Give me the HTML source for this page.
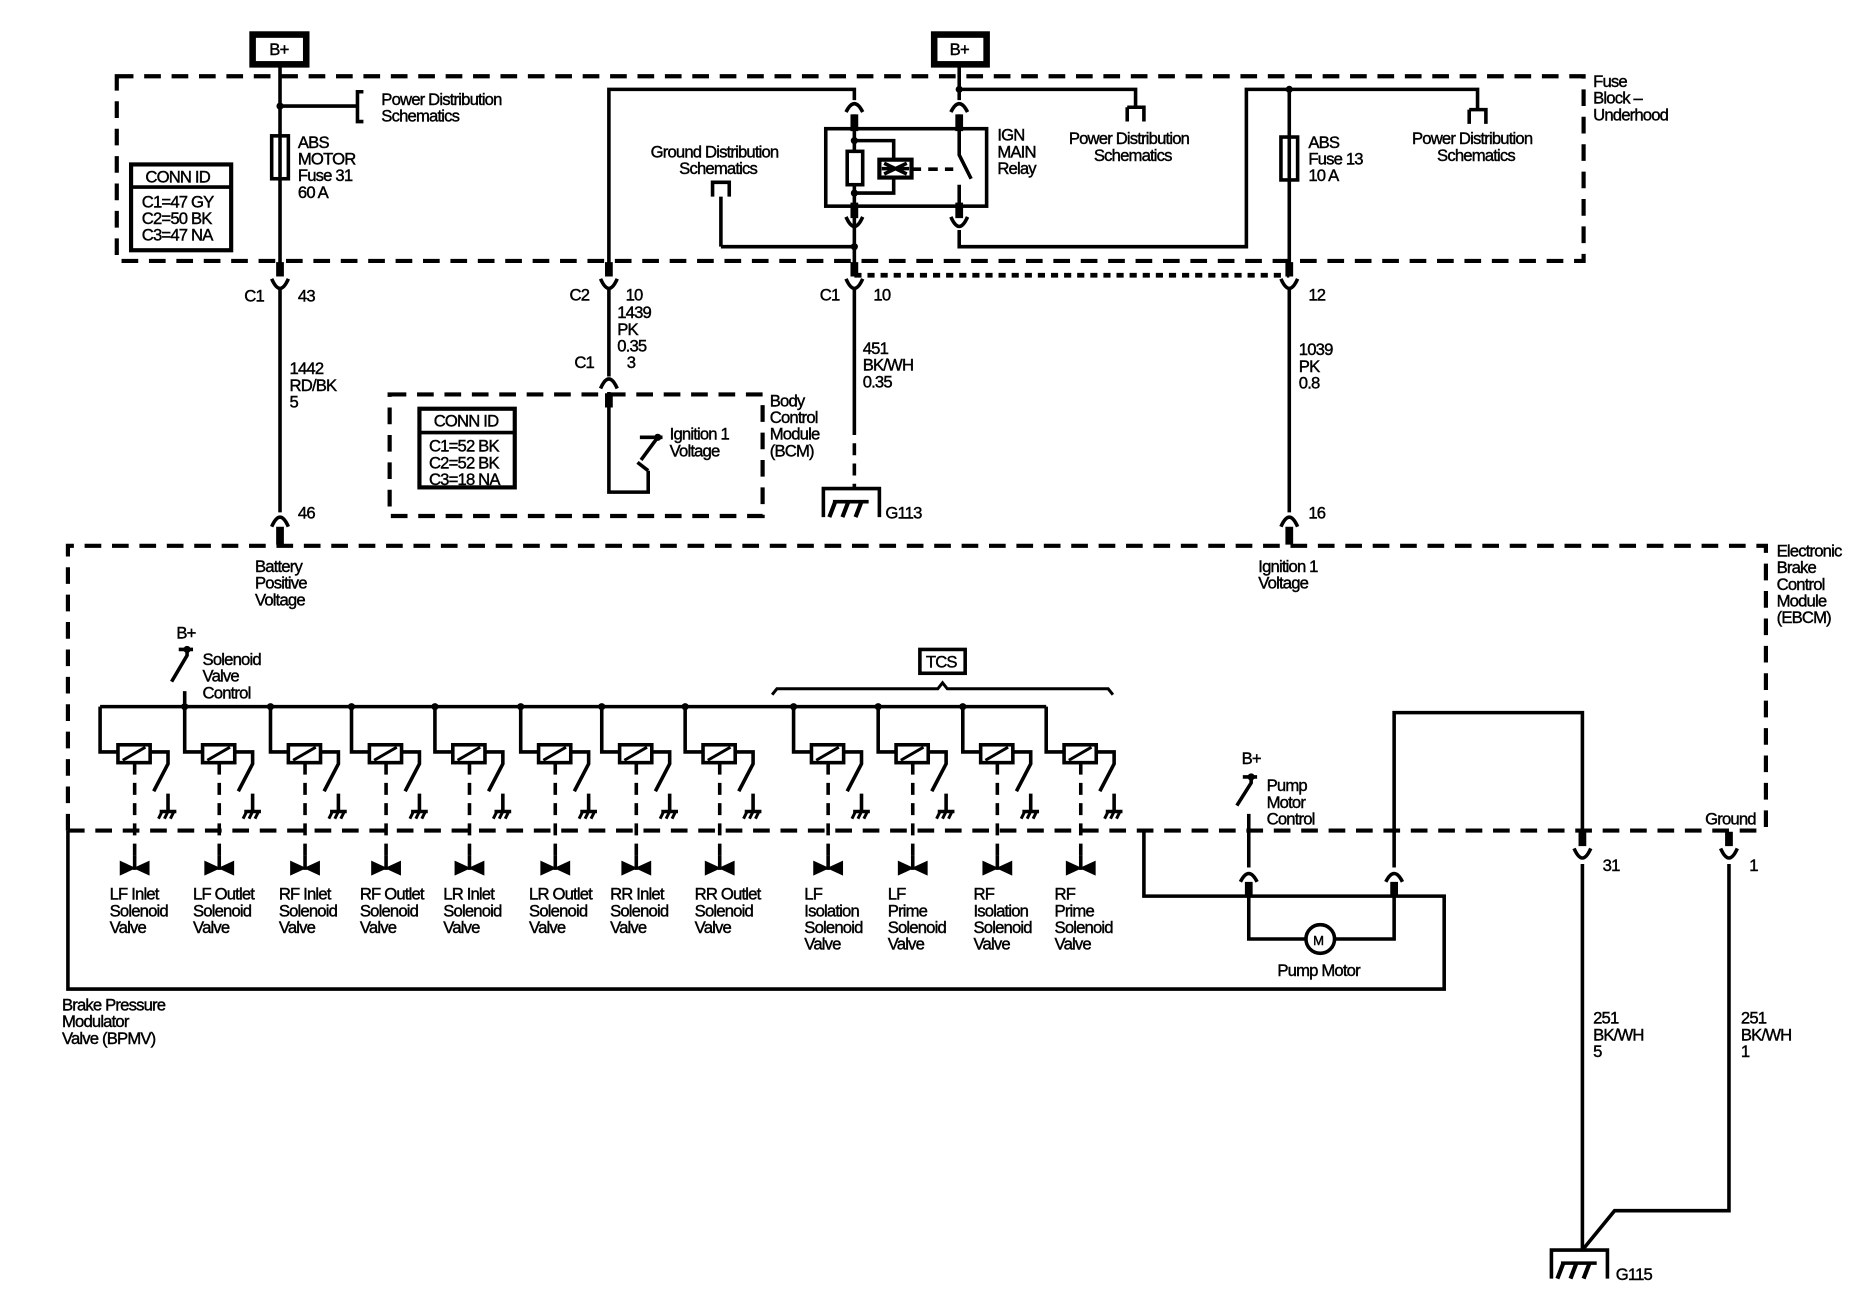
<!DOCTYPE html>
<html><head><meta charset="utf-8"><style>
html,body{margin:0;padding:0;background:#fff;}
svg{display:block;}
text{font-family:"Liberation Sans",sans-serif;font-size:14px;letter-spacing:-0.7px;fill:#000;stroke:#000;stroke-width:0.35px;}
</style></head><body>
<svg width="1866" height="1312" viewBox="0 0 1566 1101" preserveAspectRatio="none" xmlns="http://www.w3.org/2000/svg">
<defs>
<g id="sol" fill="none" stroke="#000" stroke-width="3">
  <path d="M0,593 V631 H15"/>
  <rect x="15" y="625" width="27" height="15"/>
  <line x1="19" y1="638" x2="38" y2="627" stroke-width="2.5"/>
  <path d="M42,631 H57 V641 L45,664"/>
  <path d="M57,666 V681 M50,681 H64"/>
  <path d="M52,681 L49,687 M57,681 L54,687 M62,681 L59,687" stroke-width="2.5"/>
  <line x1="29" y1="640" x2="29" y2="722" stroke-dasharray="10,7"/>
  <path d="M17,723 L29,728.5 L17,734 Z M41,723 L29,728.5 L41,734 Z" fill="#000" stroke-width="1"/>
  <line x1="29" y1="718" x2="29" y2="730"/>
</g>
<g id="gnd" fill="none" stroke="#000" stroke-width="3">
  <path d="M-24,24 V0 H23 V24"/>
  <path d="M-16,11 H14"/>
  <path d="M-14,11 L-19,24 M-3,11 L-8,24 M8,11 L3,24" stroke-width="3.5"/>
</g>
</defs>
<g fill="none" stroke="#000" stroke-width="3.5" stroke-dasharray="14,9">
  <rect x="98" y="64" width="1231" height="155"/>
  <rect x="327" y="331" width="313" height="102"/>
  <path d="M57,697 V458 H1482 V697"/>
  <line x1="57" y1="697" x2="1482" y2="697"/>
</g>
<line x1="717" y1="231" x2="1082" y2="231" stroke="#000" stroke-width="4" stroke-dasharray="6,5"/>
<rect x="212" y="29" width="45" height="25" fill="#fff" stroke="#000" stroke-width="5.5"/>
<text x="226" y="46">B+</text>
<rect x="784" y="29" width="44" height="25" fill="#fff" stroke="#000" stroke-width="5.5"/>
<text x="797" y="46">B+</text>
<g fill="none" stroke="#000" stroke-width="3">
<path d="M235,54 V230 M235,243 V430"/>
<path d="M235,89 H300 M305,77 H300 V102 H305"/>
<rect x="228" y="114" width="14" height="36" fill="#fff"/>
<line x1="235" y1="114" x2="235" y2="150"/>
<path d="M511,230 V75 H717 V84"/>
<path d="M511,243 V316 M511,329 V413 H544 V395"/>
<path d="M544,395 L535,388 M538,386 L552,367 M537,367 H556"/>
<rect x="693" y="108" width="135" height="65"/>
<path d="M717,96 V230 M717,243 V355"/>
<path d="M717,355 V410" stroke-dasharray="10,7"/>
<path d="M717,118 H750 V162 H717"/>
<rect x="711" y="127" width="13" height="28" fill="#fff"/>
<rect x="738" y="134" width="27" height="15" fill="#fff" stroke-width="3.5"/>
<path d="M742,137 L761,146 M742,146 L761,137 M740,141.5 H763"/>
<path d="M765,142 H800" stroke-dasharray="8,6"/>
<path d="M805,54 V84 M805,96 V130 L815,150 M805,155 V180"/>
<path d="M805,75 H953 V90 M946,90 H960 V102 M946,90 V102"/>
<path d="M805,193 V207 H1046 V75 H1240 V92 M1233,92 H1247 V104 M1233,92 V104"/>
<path d="M605,207 H717 M605,207 V165 M598,165 V153 H612 V165"/>
<path d="M1082,75 V230 M1082,243 V430"/>
<rect x="1075" y="115" width="14" height="36" fill="#fff"/>
<line x1="1082" y1="115" x2="1082" y2="151"/>
</g>
<g fill="#000"><circle cx="235" cy="89" r="3"/><circle cx="805" cy="75" r="3"/><circle cx="1082" cy="75" r="3"/><circle cx="717" cy="118" r="3"/><circle cx="717" cy="162" r="3"/><circle cx="717" cy="207" r="3"/><circle cx="552" cy="367" r="3"/></g>
<g fill="none" stroke="#000" stroke-width="3">
<path d="M228,234 Q235,250 242,234"/><path d="M504,234 Q511,250 518,234"/><path d="M710,234 Q717,250 724,234"/><path d="M1075,234 Q1082,250 1089,234"/>
<path d="M504,326 Q511,310 518,326"/>
<path d="M228,442 Q235,426 242,442"/><path d="M1075,442 Q1082,426 1089,442"/>
<path d="M710,94 Q717,80 724,94"/><path d="M798,94 Q805,80 812,94"/>
<path d="M710,182 Q717,198 724,182"/><path d="M798,182 Q805,198 812,182"/>
<path d="M1041,740 Q1048,726 1055,740"/><path d="M1163,740 Q1170,726 1177,740"/>
<path d="M1321,712 Q1328,728 1335,712"/><path d="M1444,712 Q1451,728 1458,712"/>
</g>
<g stroke="#000" stroke-width="6.5">
<path d="M235,220 V232 M511,220 V232 M717,220 V232 M1082,220 V232 M511,330 V342 M235,442 V457 M1082,442 V457"/>
<path d="M717,96 V110 M805,96 V110 M717,170 V183 M805,170 V183"/>
<path d="M1048,740 V752 M1170,740 V752 M1328,698 V710 M1451,698 V710"/>
</g>
<g fill="#fff" stroke="#000" stroke-width="3.5"><rect x="110" y="138" width="84" height="72"/><rect x="352" y="343" width="80" height="66"/></g>
<g stroke="#000" stroke-width="3"><line x1="110" y1="157" x2="194" y2="157"/><line x1="352" y1="363" x2="432" y2="363"/></g>
<use href="#gnd" x="715" y="410"/>
<g fill="none" stroke="#000" stroke-width="3">
<path d="M84,593 H878"/>
<path d="M150,545 H162 M157,545 V550 L144,572 M155,580 V593"/>
<path d="M648,583 L652,578 H787 L791,573 L795,578 H930 L934,583" stroke-width="2.5"/>
</g>
<rect x="772" y="545" width="38" height="20" fill="#fff" stroke="#000" stroke-width="3"/>
<text x="777" y="560">TCS</text>
<g fill="#000"><circle cx="155" cy="593" r="3"/><circle cx="227" cy="593" r="3"/><circle cx="295" cy="593" r="3"/><circle cx="365" cy="593" r="3"/><circle cx="437" cy="593" r="3"/><circle cx="505" cy="593" r="3"/><circle cx="575" cy="593" r="3"/><circle cx="666" cy="593" r="3"/><circle cx="737" cy="593" r="3"/><circle cx="808" cy="593" r="3"/><circle cx="157" cy="545" r="3"/></g>
<use href="#sol" x="84"/><use href="#sol" x="155"/><use href="#sol" x="227"/><use href="#sol" x="295"/><use href="#sol" x="365"/><use href="#sol" x="437"/><use href="#sol" x="505"/><use href="#sol" x="575"/><use href="#sol" x="666"/><use href="#sol" x="737"/><use href="#sol" x="808"/><use href="#sol" x="878"/>
<g fill="none" stroke="#000" stroke-width="3">
<path d="M57,697 V830 H1212 V752 H960 V697"/>
<path d="M1043,652 H1055 M1050,652 V657 L1038,676 M1048,683 V728"/>
<path d="M1048,752 V788 H1096 M1120,788 H1170 V752 M1170,728 V598 H1328 V698 M1328,725 V1049"/>
<circle cx="1108" cy="788" r="12"/>
<path d="M1451,725 V1016 H1355 L1328,1049"/>
</g>
<circle cx="1050" cy="652" r="3"/>
<use href="#gnd" x="1326" y="1049"/>
<text x="320" y="88">Power Distribution</text><text x="320" y="102">Schematics</text>
<text x="250" y="124">ABS</text><text x="250" y="138">MOTOR</text><text x="250" y="152">Fuse 31</text><text x="250" y="166">60 A</text>
<text x="122" y="153">CONN ID</text><text x="119" y="174">C1=47 GY</text><text x="119" y="188">C2=50 BK</text><text x="119" y="202">C3=47 NA</text>
<text x="546" y="132">Ground Distribution</text><text x="570" y="146">Schematics</text>
<text x="837" y="118">IGN</text><text x="837" y="132">MAIN</text><text x="837" y="146">Relay</text>
<text x="897" y="121">Power Distribution</text><text x="918" y="135">Schematics</text>
<text x="1098" y="124">ABS</text><text x="1098" y="138">Fuse 13</text><text x="1098" y="152">10 A</text>
<text x="1185" y="121">Power Distribution</text><text x="1206" y="135">Schematics</text>
<text x="1337" y="73">Fuse</text><text x="1337" y="87">Block –</text><text x="1337" y="101">Underhood</text>
<text x="205" y="253">C1</text><text x="250" y="253">43</text>
<text x="478" y="252">C2</text><text x="525" y="252">10</text>
<text x="518" y="267">1439</text><text x="518" y="281">PK</text><text x="518" y="295">0.35</text><text x="526" y="309">3</text><text x="482" y="309">C1</text>
<text x="688" y="252">C1</text><text x="733" y="252">10</text>
<text x="1098" y="252">12</text>
<text x="243" y="314">1442</text><text x="243" y="328">RD/BK</text><text x="243" y="342">5</text>
<text x="724" y="297">451</text><text x="724" y="311">BK/WH</text><text x="724" y="325">0.35</text>
<text x="1090" y="298">1039</text><text x="1090" y="312">PK</text><text x="1090" y="326">0.8</text>
<text x="364" y="358">CONN ID</text><text x="360" y="379">C1=52 BK</text><text x="360" y="393">C2=52 BK</text><text x="360" y="407">C3=18 NA</text>
<text x="562" y="369">Ignition 1</text><text x="562" y="383">Voltage</text>
<text x="646" y="341">Body</text><text x="646" y="355">Control</text><text x="646" y="369">Module</text><text x="646" y="383">(BCM)</text>
<text x="743" y="435">G113</text>
<text x="250" y="435">46</text><text x="1098" y="435">16</text>
<text x="214" y="480">Battery</text><text x="214" y="494">Positive</text><text x="214" y="508">Voltage</text>
<text x="1056" y="480">Ignition 1</text><text x="1056" y="494">Voltage</text>
<text x="1491" y="467">Electronic</text><text x="1491" y="481">Brake</text><text x="1491" y="495">Control</text><text x="1491" y="509">Module</text><text x="1491" y="523">(EBCM)</text>
<text x="148" y="536">B+</text>
<text x="170" y="558">Solenoid</text><text x="170" y="572">Valve</text><text x="170" y="586">Control</text>
<text x="1042" y="641">B+</text>
<text x="1063" y="664">Pump</text><text x="1063" y="678">Motor</text><text x="1063" y="692">Control</text>
<text x="1431" y="692">Ground</text>
<text x="1345" y="731">31</text><text x="1468" y="731">1</text>
<text x="1102" y="793" style="font-size:11px">M</text>
<text x="1072" y="819">Pump Motor</text>
<g>
<text x="92" y="755">LF Inlet</text><text x="92" y="769">Solenoid</text><text x="92" y="783">Valve</text>
<text x="162" y="755">LF Outlet</text><text x="162" y="769">Solenoid</text><text x="162" y="783">Valve</text>
<text x="234" y="755">RF Inlet</text><text x="234" y="769">Solenoid</text><text x="234" y="783">Valve</text>
<text x="302" y="755">RF Outlet</text><text x="302" y="769">Solenoid</text><text x="302" y="783">Valve</text>
<text x="372" y="755">LR Inlet</text><text x="372" y="769">Solenoid</text><text x="372" y="783">Valve</text>
<text x="444" y="755">LR Outlet</text><text x="444" y="769">Solenoid</text><text x="444" y="783">Valve</text>
<text x="512" y="755">RR Inlet</text><text x="512" y="769">Solenoid</text><text x="512" y="783">Valve</text>
<text x="583" y="755">RR Outlet</text><text x="583" y="769">Solenoid</text><text x="583" y="783">Valve</text>
<text x="675" y="755">LF</text><text x="675" y="769">Isolation</text><text x="675" y="783">Solenoid</text><text x="675" y="797">Valve</text>
<text x="745" y="755">LF</text><text x="745" y="769">Prime</text><text x="745" y="783">Solenoid</text><text x="745" y="797">Valve</text>
<text x="817" y="755">RF</text><text x="817" y="769">Isolation</text><text x="817" y="783">Solenoid</text><text x="817" y="797">Valve</text>
<text x="885" y="755">RF</text><text x="885" y="769">Prime</text><text x="885" y="783">Solenoid</text><text x="885" y="797">Valve</text>
</g>
<text x="52" y="848">Brake Pressure</text><text x="52" y="862">Modulator</text><text x="52" y="876">Valve (BPMV)</text>
<text x="1337" y="859">251</text><text x="1337" y="873">BK/WH</text><text x="1337" y="887">5</text>
<text x="1461" y="859">251</text><text x="1461" y="873">BK/WH</text><text x="1461" y="887">1</text>
<text x="1356" y="1074">G115</text>
</svg>
</body></html>
